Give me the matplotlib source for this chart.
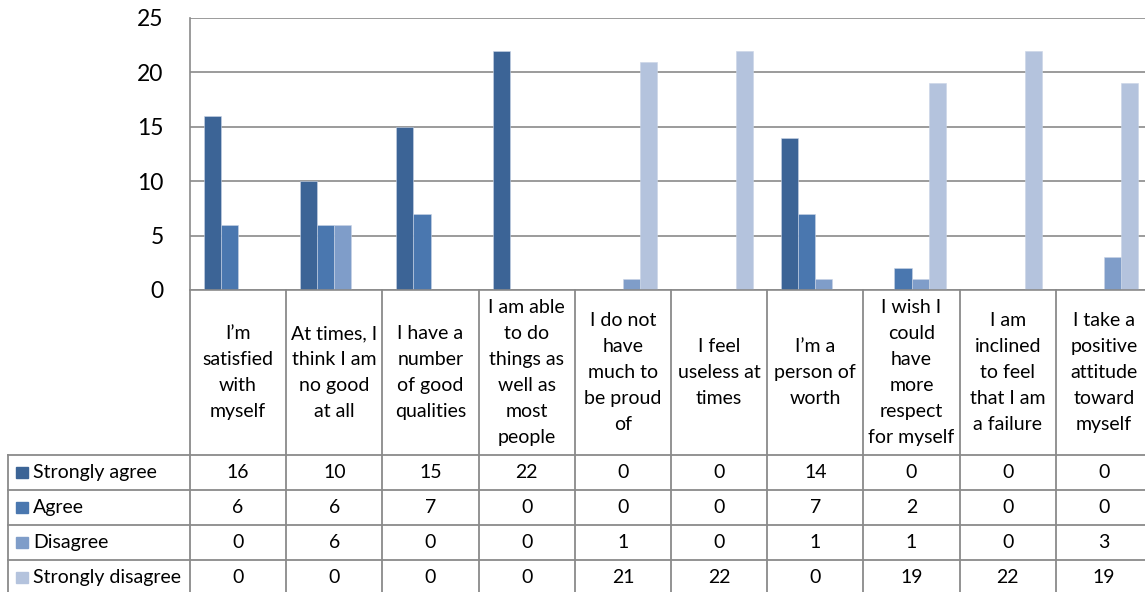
import matplotlib
matplotlib.use("Agg")
import matplotlib.pyplot as plt
import numpy as np

# ---------------------------
# DATA
# ---------------------------
statements = [
    "I’m\nsatisfied\nwith\nmyself",
    "At times, I\nthink I am\nno good\nat all",
    "I have a\nnumber\nof good\nqualities",
    "I am able\nto do\nthings as\nwell as\nmost\npeople",
    "I do not\nhave\nmuch to\nbe proud\nof",
    "I feel\nuseless at\ntimes",
    "I’m a\nperson of\nworth",
    "I wish I\ncould\nhave\nmore\nrespect\nfor myself",
    "I am\ninclined\nto feel\nthat I am\na failure",
    "I take a\npositive\nattitude\ntoward\nmyself",
]
series_names = ["Strongly agree", "Agree", "Disagree", "Strongly disagree"]
strongly_agree = [16, 10, 15, 22, 0, 0, 14, 0, 0, 0]
agree = [6, 6, 7, 0, 0, 0, 7, 2, 0, 0]
disagree = [0, 6, 0, 0, 1, 0, 1, 1, 0, 3]
strongly_disagree = [0, 0, 0, 0, 21, 22, 0, 19, 22, 19]
y_ticks = [0, 5, 10, 15, 20, 25]

values = [strongly_agree, agree, disagree, strongly_disagree]
colors = ["#3c6496", "#4a77af", "#7f9dc9", "#b4c3dd"]
grid_col = "#8a8a8a"

plt.rcParams["font.family"] = ["Lato", "DejaVu Sans"]

W, H = 1145, 592
fig = plt.figure(figsize=(W / 100, H / 100), dpi=100)

# pixel layout
plot_l, plot_r, plot_t, plot_b = 190, 1152, 18, 290
label_l = 8
header_h = 165
row_h = 35
n = len(statements)
unit = (plot_r - plot_l) / n

# ---------------------------
# BAR CHART
# ---------------------------
ax = fig.add_axes([plot_l / W, 1 - plot_b / H, (plot_r - plot_l) / W, (plot_b - plot_t) / H])
x = np.arange(n)
bw = 0.177
for s, (vals, col) in enumerate(zip(values, colors)):
    ax.bar(x + (s - 1.5) * bw, vals, width=bw, color=col, edgecolor="#c9d4e6",
           linewidth=0.4, zorder=3)

ax.set_xlim(-0.5, n - 0.5)
ax.set_ylim(0, 25)
ax.set_yticks(y_ticks)
ax.set_xticks([])
ax.tick_params(axis="y", length=0, pad=19, labelsize=16.5)
ax.yaxis.grid(True, color=grid_col, linewidth=1.2, zorder=0)
for side in ["top", "right"]:
    ax.spines[side].set_visible(False)
for side in ["left", "bottom"]:
    ax.spines[side].set_color(grid_col)
    ax.spines[side].set_linewidth(1.2)
    ax.spines[side].set_zorder(4)

# ---------------------------
# DATA TABLE
# ---------------------------
n_rows = len(series_names)
hdr = header_h / row_h
left_units = (plot_l - label_l) / unit
tb_bottom = plot_b + header_h + n_rows * row_h
tax = fig.add_axes([label_l / W, 1 - tb_bottom / H, (plot_r - label_l) / W, (tb_bottom - plot_b) / H])
tax.set_xlim(-0.5 - left_units, n - 0.5)
tax.set_ylim(hdr + n_rows, 0)
tax.axis("off")

lw = 1.3
# vertical column borders
for i in range(n + 1):
    tax.plot([i - 0.5, i - 0.5], [0, hdr + n_rows], color=grid_col, lw=lw, clip_on=False)
tax.plot([-0.5 - left_units] * 2, [hdr, hdr + n_rows], color=grid_col, lw=lw, clip_on=False)
# horizontal row borders
for r in range(n_rows + 1):
    tax.plot([-0.5 - left_units, n - 0.5], [hdr + r, hdr + r], color=grid_col, lw=lw, clip_on=False)

# header texts
for i, label in enumerate(statements):
    tax.text(i, hdr / 2, label, ha="center", va="center", fontsize=14,
             linespacing=1.63, color="#000000")

# rows: legend key + values
for r, (name, vals, col) in enumerate(zip(series_names, values, colors)):
    yc = hdr + r + 0.5
    sw = 12 / unit
    tax.add_patch(plt.Rectangle((-0.5 - left_units + 8 / unit, yc - 0.17), sw, 0.34,
                                color=col, clip_on=False))
    tax.text(-0.5 - left_units + 25 / unit, yc, name, ha="left", va="center", fontsize=14)
    for i, v in enumerate(vals):
        tax.text(i, yc, str(v), ha="center", va="center", fontsize=14)

fig.savefig("out.png", dpi=100)
